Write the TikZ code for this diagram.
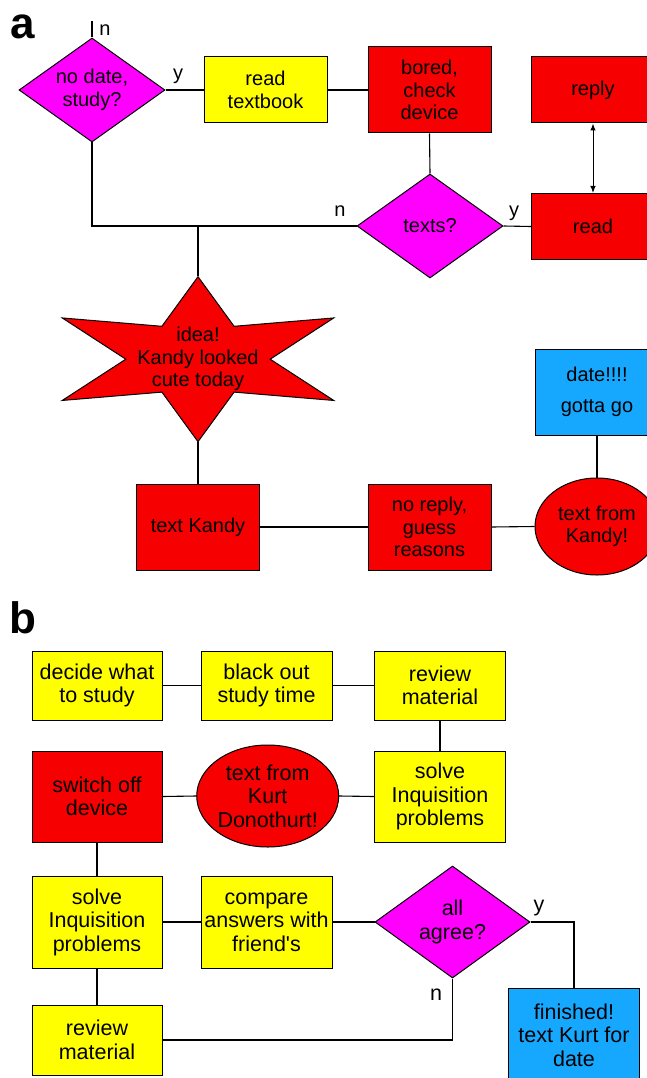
\documentclass[tikz,border=0pt]{standalone}
\usepackage{fontspec}
\setmainfont{Liberation Sans}
\usepackage{tikz}
\usetikzlibrary{shapes,arrows,arrows.meta,positioning}

\definecolor{flowred}{RGB}{246,0,2}
\definecolor{flowyellow}{RGB}{255,255,0}
\definecolor{flowpink}{RGB}{255,0,255}
\definecolor{flowblue}{RGB}{22,168,255}

\tikzset{
  box/.style={draw, line width=1pt, inner sep=0pt, align=center,
              minimum width=123pt, minimum height=66pt},
  redbox/.style={box, fill=flowred},
  yelbox/.style={box, fill=flowyellow},
  bluebox/.style={box, fill=flowblue},
  decision/.style={diamond, draw, line width=1pt, fill=flowpink, inner sep=0pt,
                   aspect=1.4, align=center},
  blob/.style={ellipse, draw, line width=1pt, fill=flowred, inner sep=0pt, align=center},
  lbl/.style={inner sep=0pt},
  panel/.style={inner sep=0pt, font=\fontsize{44}{44}\selectfont\bfseries},
  fa/.style={font=\fontsize{20}{22.5}\selectfont},
  fb/.style={font=\fontsize{21.5}{23.5}\selectfont}
}

\begin{document}
\begin{tikzpicture}[x=1pt, y=-1pt, line width=1.1pt, every node/.append style={fa}]
    \useasboundingbox (0,0) rectangle (647,1078);

    % panel a
    \node[panel] (pa) at (23,27) {a};
    \node[decision, minimum width=146pt, minimum height=104pt] (nodate) at (92,90) {no date,\\study?};
    \node[yelbox] (textbook) at (265.5,90) {read\\textbook};
    \node[redbox, minimum height=86pt] (bored) at (429.5,90) {bored,\\check\\device};
    \node[redbox] (reply) at (593,90) {reply};
    \node[decision, minimum width=146pt, minimum height=104pt] (texts) at (430,226) {texts?};
    \node[redbox] (read) at (593,226.5) {read};
    \coordinate (top) at (92,21);

    % the star, stretched sideways
    \begin{scope}[shift={(198,359.2)}, xscale=1.9]
      \draw[fill=flowred, line width=1pt]
        (90:82.5) -- (120:38) -- (150:82.5) -- (180:38) -- (210:82.5) -- (240:38)
        -- (270:82.5) -- (300:38) -- (330:82.5) -- (0:38) -- (30:82.5) -- (60:38) -- cycle;
    \end{scope}
    \node[inner sep=0pt, minimum height=165pt, align=center] (idea) at (198,359.2) {idea!\\Kandy looked\\cute today};

    \node[redbox, minimum height=86pt] (kandy) at (198,527) {text Kandy};
    \node[redbox, minimum height=86pt] (noreply) at (429.5,527) {no reply,\\guess\\reasons};
    \node[blob, minimum width=124pt, minimum height=97pt] (fromkandy) at (597,526.5) {text from\\Kandy!};
    \node[bluebox, minimum height=86pt] (date) at (597,392) {date!!!!\\[8pt]gotta go};

    \node[lbl] (n1) at (105,30) {n};
    \node[lbl] (y1) at (178,76) {y};
    \node[lbl] (n2) at (340,211) {n};
    \node[lbl] (y2) at (514,213) {y};

    \draw (top) -- (nodate.north);
    \draw (nodate.east) -- (textbook.west);
    \draw (textbook.east) -- (bored.west);
    \draw (bored.south) -- (texts.north);
    \draw (texts.east) -- (read.west);
    \draw (texts.west) -| (nodate.south);
    \draw (idea.north) -- (idea.north |- texts.west);
    \draw[{Latex[length=7pt,width=5.5pt]}-{Latex[length=7pt,width=5.5pt]}, line width=1pt] (reply.south) -- (read.north);
    \draw (idea.south) -- (kandy.north);
    \draw (kandy.east) -- (noreply.west);
    \draw (noreply.east) -- (fromkandy.west);
    \draw (date.south) -- (fromkandy.north);

    % panel b
    \begin{scope}[every node/.append style={fb}]
    \node[panel] (pb) at (23,617.5) {b};
    \node[yelbox, minimum width=130pt, minimum height=69pt] (decide) at (97,685.5) {decide what\\to study};
    \node[yelbox, minimum width=131pt, minimum height=69pt] (blackout) at (266.5,685.5) {black out\\study time};
    \node[yelbox, minimum width=131pt, minimum height=69pt] (review) at (440,685.5) {review\\material};
    \node[yelbox, minimum width=131pt, minimum height=91pt] (solve) at (440,796.5) {solve\\Inquisition\\problems};
    \node[blob, minimum width=130pt, minimum height=102pt] (kurt) at (267.7,796) {text from\\Kurt\\Donothurt!};
    \node[redbox, minimum width=130pt, minimum height=91pt] (switchoff) at (97,796.5) {switch off\\device};
    \node[yelbox, minimum width=130pt, minimum height=92pt] (solveagain) at (97,922) {solve\\Inquisition\\problems};
    \node[yelbox, minimum width=131pt, minimum height=92pt] (compare) at (266.5,922) {compare\\answers with\\friend\textquotesingle s};
    \node[decision, minimum width=155pt, minimum height=112pt] (agree) at (452.5,922) {all\\agree?};
    \node[bluebox, minimum width=131pt, minimum height=94pt] (finished) at (574,1035) {finished!\\text Kurt for\\date};
    \node[yelbox, minimum width=130pt, minimum height=70pt] (reviewagain) at (97,1040) {review\\material};

    \node[lbl] (y3) at (539,908) {y};
    \node[lbl] (n3) at (436,995) {n};
    \end{scope}

    \draw (decide.east) -- (blackout.west);
    \draw (blackout.east) -- (review.west);
    \draw (review.south) -- (solve.north);
    \draw (solve.west) -- (kurt.east);
    \draw (kurt.west) -- (switchoff.east);
    \draw (switchoff.south) -- (solveagain.north);
    \draw (solveagain.east) -- (compare.west);
    \draw (compare.east) -- (agree.west);
    \draw (agree.east) -| (finished.north);
    \draw (agree.south) |- (reviewagain.east);
    \draw (solveagain.south) -- (reviewagain.north);
\end{tikzpicture}
\end{document}
